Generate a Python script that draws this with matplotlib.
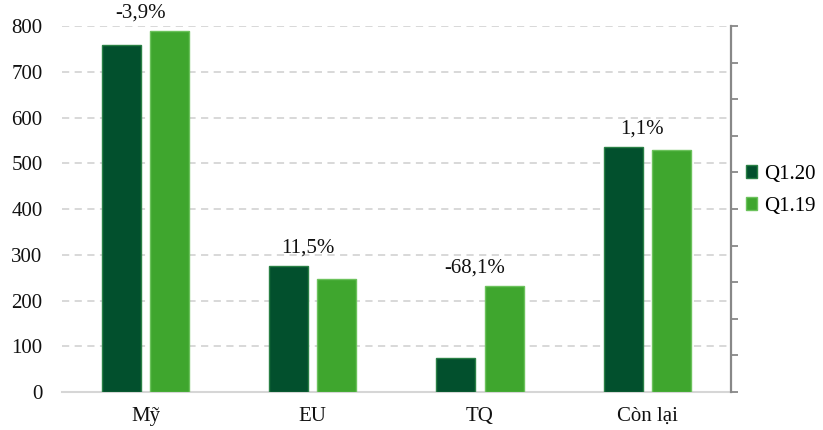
import matplotlib.pyplot as plt
import numpy as np

plt.rcParams['font.family'] = ['Liberation Serif', 'DejaVu Serif']

categories = ['Mỹ', 'EU', 'TQ', 'Còn lại']
q1_20 = [758, 275, 75, 535]
q1_19 = [789, 247, 232, 529]
changes = ['-3,9%', '11,5%', '-68,1%', '1,1%']

dark = '#02502d'
light = '#3fa62e'
fs = 15

fig = plt.figure(figsize=(8.23, 4.30), dpi=100)
ax = fig.add_axes([0.0753, 0.0884, 0.8127, 0.851])

x = np.arange(len(categories))
w = 0.234
off = 0.144
ax.bar(x - off, q1_20, w, color=dark, edgecolor='#2a8046', linewidth=1.0,
       label='Q1.20', zorder=3)
ax.bar(x + off, q1_19, w, color=light, edgecolor='#6cc25c', linewidth=1.0,
       label='Q1.19', zorder=3)

# percent change labels
for i, txt in enumerate(changes):
    top = max(q1_20[i], q1_19[i])
    ax.text(i - 0.03, top + 30, txt, ha='center', va='baseline', fontsize=fs,
            color='#111111', zorder=4)

ax.set_xlim(-0.5, 3.5)
ax.set_ylim(0, 800)
ax.set_yticks(range(0, 801, 100))
ax.set_xticks(x)
ax.set_xticklabels(categories)
ax.tick_params(axis='both', length=0, labelsize=fs, colors='#111111')
ax.tick_params(axis='y', pad=14)
ax.tick_params(axis='x', pad=11)

ax.grid(axis='y', color='#d6d6d6', linestyle=(0, (4, 3)), linewidth=1.3, zorder=0)
for side in ['left', 'right', 'top']:
    ax.spines[side].set_visible(False)
ax.spines['bottom'].set_color('#d6d6d6')
ax.spines['bottom'].set_linewidth(1.5)

# secondary axis with ticks only
ax2 = ax.twinx()
ax2.set_ylim(0, 800)
ax2.set_yticks(np.linspace(0, 800, 11))
ax2.set_yticklabels([])
ax2.tick_params(axis='y', length=5, width=1.3, colors='#888888', direction='out')
for side in ['left', 'top', 'bottom']:
    ax2.spines[side].set_visible(False)
ax2.spines['right'].set_color('#888888')
ax2.spines['right'].set_linewidth(1.6)

fig.legend(loc='center left', bbox_to_anchor=(746 / 823, 0.557), frameon=False,
           fontsize=fs, handlelength=0.55, handleheight=0.55, handletextpad=0.3,
           labelspacing=0.62, borderpad=0, borderaxespad=0)

plt.savefig('out.png', dpi=100)
plt.close()
